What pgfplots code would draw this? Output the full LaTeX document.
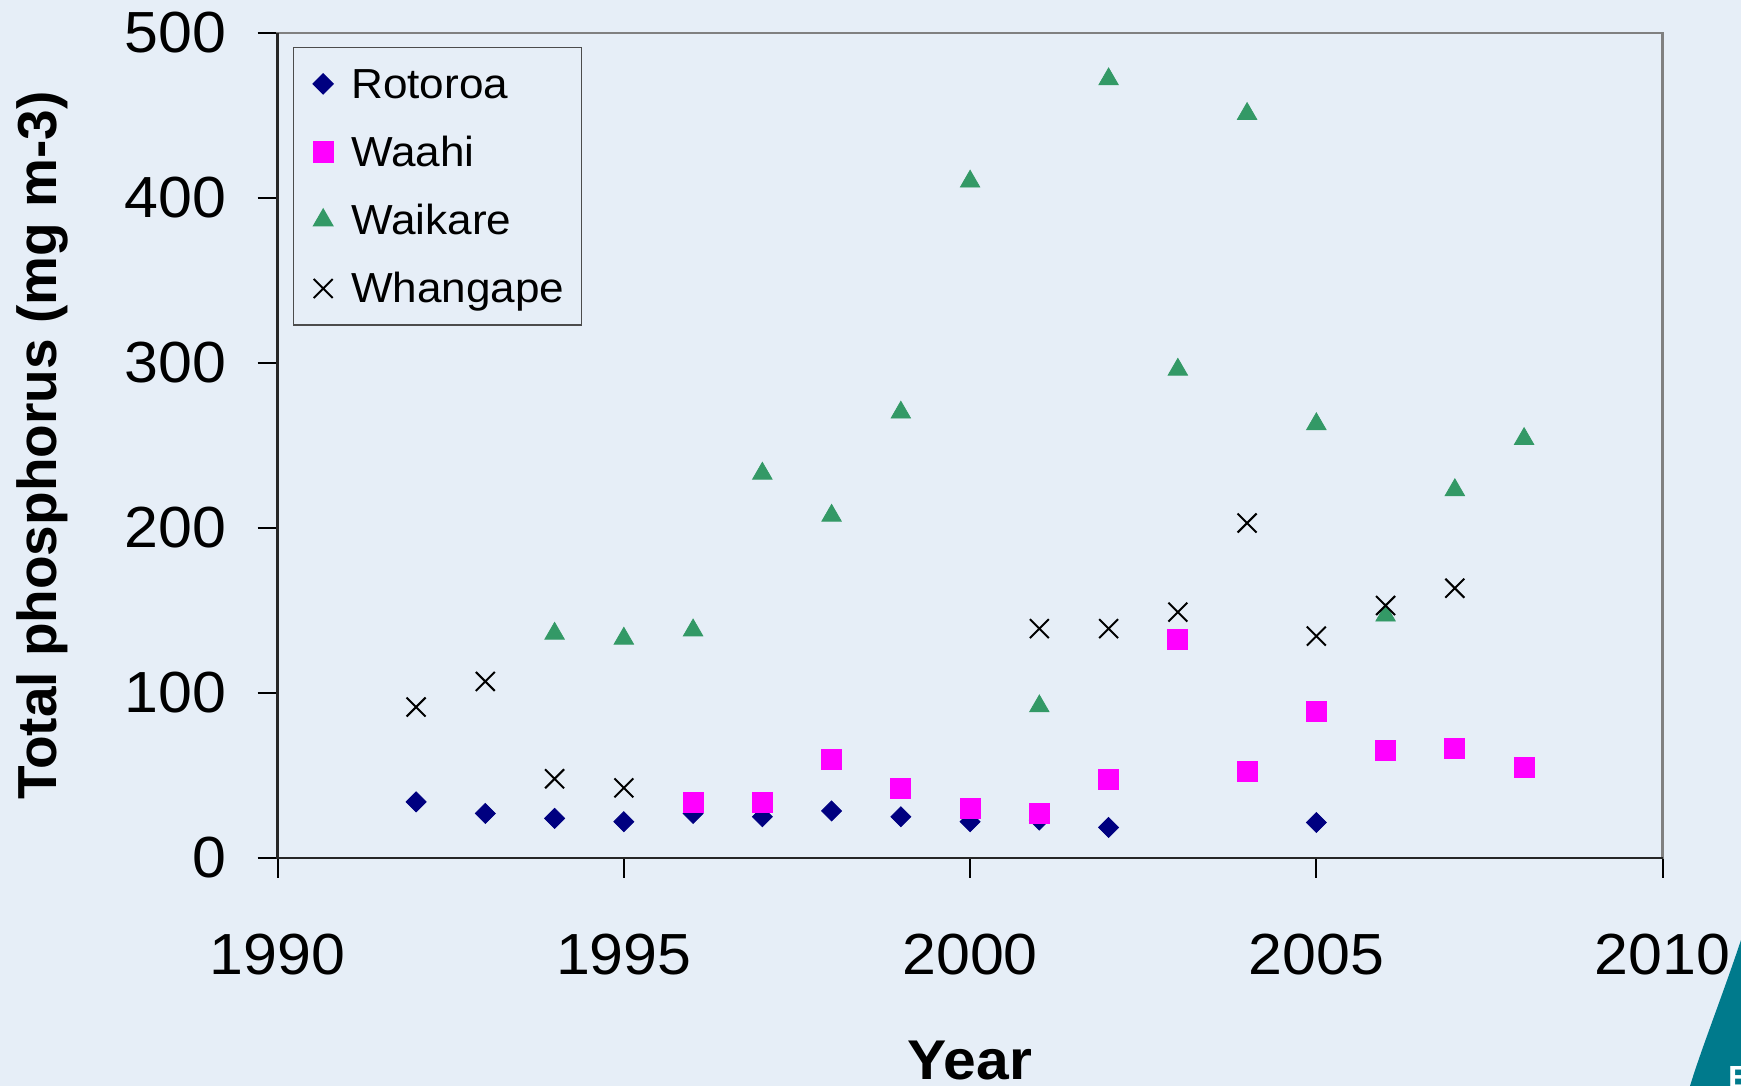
\documentclass[border=0pt]{standalone}
\usepackage{pgfplots}
\pgfplotsset{compat=1.18}
\usepackage{fontspec}
\setmainfont{Liberation Sans}[FakeStretch=1.05]
\newfontfamily\ylabfont{Liberation Sans}
\definecolor{bgblue}{RGB}{230,238,247}
\definecolor{navyc}{RGB}{0,0,128}
\definecolor{magc}{RGB}{255,0,255}
\definecolor{greenc}{RGB}{51,153,102}
\definecolor{tealc}{RGB}{0,122,140}
\pgfplotsset{
  myleg/.style={legend image code/.code={\path[draw=none,fill=none] (0pt,-9pt) rectangle (22pt,9pt); \draw[##1] plot coordinates {(11pt,0pt)};}},
}
\begin{document}
\begin{tikzpicture}
\useasboundingbox (-138.8pt,-114pt) rectangle (731.7pt,429pt);
\fill[bgblue] (-138.8pt,-114pt) rectangle (731.7pt,429pt);
\fill[tealc] (731.7pt,-41pt) .. controls (722pt,-70pt) and (712pt,-95pt) .. (706.2pt,-114pt) -- (731.7pt,-114pt) -- cycle;
\node[anchor=north west, inner sep=0pt, text=white, font=\bfseries\fontsize{16pt}{18pt}\selectfont] at (725pt,-104pt) {E};
\begin{axis}[
  at={(0pt,0pt)}, anchor=south west,
  scale only axis, width=692.5pt, height=412.5pt,
  xmin=1990, xmax=2010, ymin=0, ymax=500,
  xtick={1990,1995,2000,2005,2010},
  ytick={0,100,200,300,400,500},
  xtick pos=bottom, ytick pos=left,
  tick align=outside,
  major tick length=10pt,
  tick style={black, line width=1pt},
  axis line style={draw=black!50, line width=1.35pt},
  /pgf/number format/assume math mode=true,
  /pgf/number format/1000 sep={},
  tick label style={font=\fontsize{29pt}{34pt}\selectfont},
  yticklabel style={inner xsep=0pt, xshift=-15.5pt},
  xticklabel style={anchor=base, inner ysep=0pt, yshift=-48.5pt},
  every axis y label/.style={at={(axis description cs:0,0.5)}, xshift=-110.5pt, rotate=90, anchor=base},
  ylabel={\ylabfont\bfseries\fontsize{27.5pt}{32pt}\selectfont Total phosphorus (mg m-3)},
  every axis x label/.style={at={(axis description cs:0.5,0)}, yshift=-110.8pt, anchor=base},
  xlabel={\bfseries\fontsize{28pt}{32pt}\selectfont Year},
  legend cell align=left,
  legend style={at={(axis description cs:0,1)}, xshift=7.5pt, yshift=-6.9pt, anchor=north west,
    draw=black!70, line width=0.6pt, fill=none,
    font=\fontsize{21pt}{25pt}\selectfont,
    inner xsep=4pt, inner ysep=6.5pt, row sep=10.6pt, column sep=1pt,
    nodes={inner sep=2pt, text height=17pt, text depth=2.5pt, text width=109pt, align=left}},
  clip=false,
]
\addplot[only marks, myleg, mark=square*, mark size=3.54pt, mark options={rotate=45, fill=navyc, draw=navyc}]
coordinates {(1992,34)(1993,27)(1994,24)(1995,22)(1996,27)(1997,25)(1998,28.5)(1999,25)(2000,22)(2001,23)(2002,18.5)(2005,21.5)};
\addlegendentry{Rotoroa}
\addplot[only marks, myleg, mark=square*, mark size=5pt, mark options={fill=magc, draw=magc}]
coordinates {(1996,33.5)(1997,33.5)(1998,59.5)(1999,42)(2000,30)(2001,27)(2002,47.5)(2003,132.5)(2004,52.5)(2005,89)(2006,65)(2007,66.5)(2008,55)};
\addlegendentry{Waahi}
\addplot[only marks, myleg, mark=triangle*, mark size=5.6pt, mark options={fill=greenc, draw=greenc}]
coordinates {(1994,136)(1995,133)(1996,138)(1997,233)(1998,207.5)(1999,270)(2000,410)(2001,92)(2002,472)(2003,296)(2004,451)(2005,263)(2006,147)(2007,223)(2008,254)};
\addlegendentry{Waikare}
\addplot[only marks, myleg, mark=x, mark size=6.7pt, mark options={draw=black, line width=1pt}]
coordinates {(1992,91.5)(1993,107)(1994,48)(1995,42.5)(2001,139)(2002,139)(2003,149)(2004,203)(2005,134.5)(2006,153)(2007,163.5)};
\addlegendentry{Whangape}
\draw[black!85, line width=1.35pt] (rel axis cs:0,1) -- (rel axis cs:0,0) -- (rel axis cs:1,0);
\end{axis}
\end{tikzpicture}
\end{document}
